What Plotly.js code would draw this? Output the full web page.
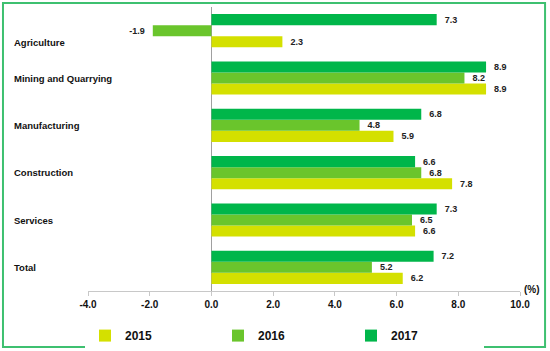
<!DOCTYPE html>
<html>
<head>
<meta charset="utf-8">
<script src="https://cdn.plot.ly/plotly-3.0.1.min.js"></script>
<style>
html,body{margin:0;padding:0;background:#fff;}
#chart{width:550px;height:351px;}
</style>
</head>
<body>
<div id="chart"></div>
<script>
const categories = ["Agriculture", "Mining and Quarrying", "Manufacturing", "Construction", "Services", "Total"];
const values2015 = [2.3, 8.9, 5.9, 7.8, 6.6, 6.2];
const values2016 = [-1.9, 8.2, 4.8, 6.8, 6.5, 5.2];
const values2017 = [7.3, 8.9, 6.8, 6.6, 7.3, 7.2];
const tickValues = [-4, -2, 0, 2, 4, 6, 8, 10];
const tickLabels = ["-4.0", "-2.0", "0.0", "2.0", "4.0", "6.0", "8.0", "10.0"];

const colors = {"2015": "#d4e000", "2016": "#6ac52c", "2017": "#00b64a"};
const NB = "\u00a0";

function mk(name, vals) {
  return {
    type: "bar",
    orientation: "h",
    name: name,
    x: vals,
    y: categories,
    marker: {color: colors[name]},
    text: vals.map(v => v < 0 ? v.toFixed(1) + NB + NB : NB + NB + v.toFixed(1)),
    textposition: "outside",
    cliponaxis: false,
    textfont: {family: "Arial, Liberation Sans, sans-serif", size: 9, color: "#222", weight: "bold"},
    hoverinfo: "x+name"
  };
}

const data = [mk("2015", values2015), mk("2016", values2016), mk("2017", values2017)];

const annotations = categories.map((c, i) => ({
  xref: "paper", yref: "y", x: -0.175, y: c,
  xanchor: "left", yanchor: "middle",
  yshift: i === 0 ? -12 : 0,
  text: "<b>" + c + "</b>", showarrow: false,
  font: {family: "Arial, Liberation Sans, sans-serif", size: 9.5, color: "#111"}
}));
annotations.push({
  xref: "paper", yref: "paper", x: 1.005, y: 0, xanchor: "left", yanchor: "bottom",
  text: "<b>(%)</b>", showarrow: false, yshift: -6,
  font: {family: "Arial, Liberation Sans, sans-serif", size: 10, color: "#111"}
});

const layout = {
  width: 550, height: 351,
  margin: {l: 88, r: 30, t: 7, b: 60, autoexpand: false},
  paper_bgcolor: "#fff", plot_bgcolor: "#fff",
  barmode: "group",
  bargap: 0.3,
  bargroupgap: 0,
  showlegend: true,
  legend: {
    orientation: "h", x: -0.007, y: -0.157, xanchor: "left", yanchor: "middle",
    traceorder: "normal",
    entrywidth: 88, entrywidthmode: "pixels",
    font: {family: "Arial, Liberation Sans, sans-serif", size: 12, color: "#111", weight: "bold"}
  },
  xaxis: {
    range: [-4, 10],
    tickvals: tickValues, ticktext: tickLabels,
    showgrid: false, zeroline: true, zerolinecolor: "#a0a0a0", zerolinewidth: 1,
    showline: true, linecolor: "#c8c8c8", linewidth: 1,
    ticks: "outside", ticklen: 4, tickcolor: "#c8c8c8",
    tickfont: {family: "Arial, Liberation Sans, sans-serif", size: 10, color: "#111", weight: "bold"},
    fixedrange: true
  },
  yaxis: {
    categoryorder: "array", categoryarray: categories.slice().reverse(),
    showticklabels: false, showgrid: false, zeroline: false, showline: false, ticks: "",
    fixedrange: true
  },
  annotations: annotations,
  shapes: [{
    type: "rect", xref: "paper", yref: "paper",
    x0: -0.1968, x1: 1.058, y0: -0.197, y1: 1.014,
    line: {color: "#3ec070", width: 2}, fillcolor: "rgba(0,0,0,0)", layer: "below"
  }]
};

Plotly.newPlot("chart", data, layout, {displayModeBar: false, staticPlot: true});
</script>
</body>
</html>
